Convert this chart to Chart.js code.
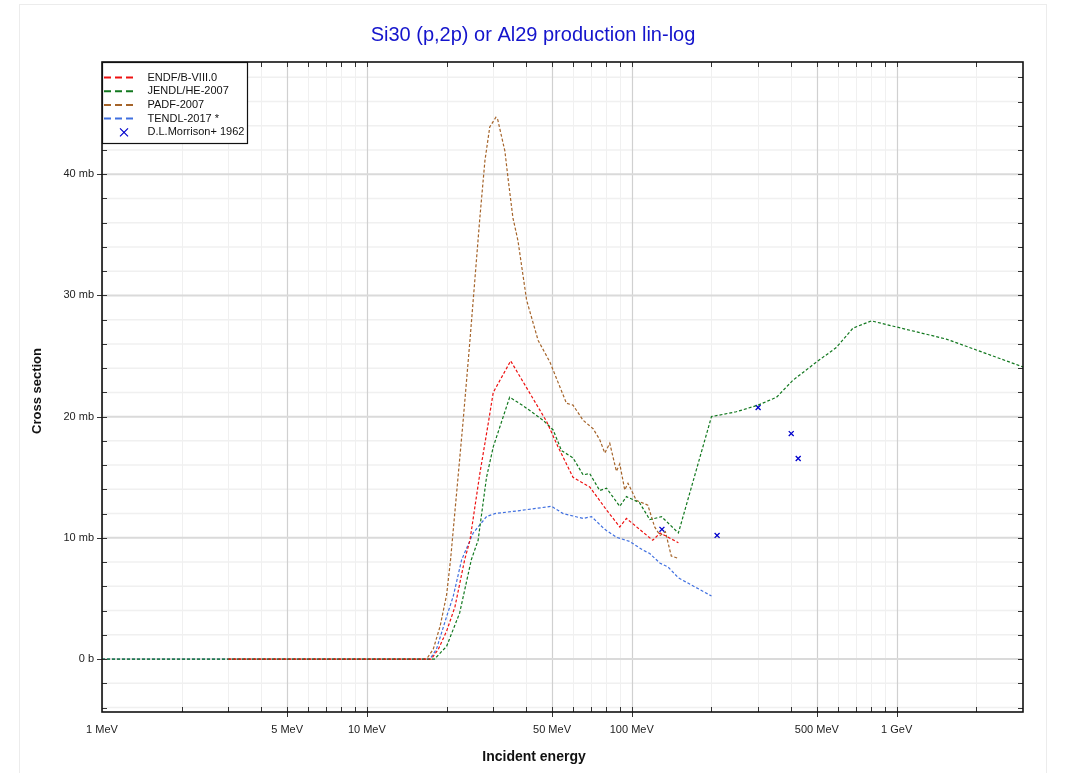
<!DOCTYPE html>
<html><head><meta charset="utf-8">
<script src="https://cdn.jsdelivr.net/npm/chart.js@4.4.0/dist/chart.umd.min.js"></script>
<style>
html,body{margin:0;padding:0;background:#fff;}
#wrap{position:relative;width:1071px;height:773px;overflow:hidden;}
#frame{position:absolute;left:19px;top:4px;width:1026px;height:800px;border:1px solid #ececec;}
canvas{position:absolute;left:0;top:0;}
</style></head><body>
<div id="wrap"><div id="frame"></div><canvas id="c" width="1071" height="773"></canvas></div>
<script>
const FONT = '"Liberation Sans", Arial, Helvetica, sans-serif';
const titleText = 'Si30 (p,2p) or Al29 production lin-log';
const xAxisTitle = 'Incident energy';
const yAxisTitle = 'Cross section';

// Energies in MeV, cross sections in mb
const endfE  = [3, 17.5, 18.6, 20.0, 21.5, 23.4, 24.5, 26.7, 28.7, 30.0, 34.9, 47.7, 52.7, 60.0, 69.4, 80.3, 90.1, 95.5, 107, 120, 128, 150];
const endfXS = [0, 0, 0.8, 2.3, 4.3, 8.2, 9.8, 15.3, 19.4, 22.0, 24.6, 19.6, 17.5, 15.0, 14.2, 12.3, 10.9, 11.6, 10.7, 9.8, 10.4, 9.6];

const jendlE  = [1, 18.0, 20.0, 22.4, 24.8, 26.3, 28.3, 30.0, 34.6, 38.9, 46.3, 50.5, 54.3, 60.0, 65.5, 69.4, 75.7, 80.3, 90.1, 95.5, 107, 117, 129.5, 150, 200, 248, 300, 352, 406, 498, 592, 684, 803, 997, 1540, 2000, 3000];
const jendlXS = [0, 0, 1.05, 3.8, 8.2, 9.8, 15.0, 17.5, 21.6, 20.9, 19.7, 18.9, 17.2, 16.6, 15.2, 15.3, 13.9, 14.1, 12.6, 13.4, 12.9, 11.5, 11.75, 10.4, 20.0, 20.4, 20.95, 21.6, 23.0, 24.5, 25.7, 27.3, 27.9, 27.4, 26.4, 25.5, 24.1];

const padfE  = [3, 16.8, 17.8, 18.9, 20.0, 20.7, 23.1, 24.5, 25.2, 26.7, 27.9, 29.1, 30.7, 31.2, 33.2, 34.1, 35.6, 37.2, 40.1, 44.3, 49.1, 56.7, 60.0, 65.5, 71.5, 75.7, 79.1, 82.6, 87.5, 90.1, 94.1, 96.8, 104, 115, 122, 128, 134, 141, 150];
const padfXS = [0, 0, 0.8, 2.7, 5.3, 8.2, 19.7, 26.3, 29.6, 36.4, 41.1, 43.9, 44.7, 44.5, 41.9, 39.7, 36.4, 34.5, 29.6, 26.3, 24.5, 21.1, 20.95, 19.7, 19.0, 18.1, 17.0, 17.8, 15.5, 16.1, 13.95, 14.5, 13.1, 12.7, 10.9, 10.2, 10.5, 8.5, 8.3];

const tendlE  = [1, 17.3, 18.3, 20.0, 21.2, 22.8, 25.2, 28.3, 30.4, 37.8, 49.8, 55.1, 65.5, 70.5, 79.1, 87.5, 98.3, 110, 117, 128, 137, 150, 200];
const tendlXS = [0, 0, 0.8, 3.5, 5.2, 8.2, 10.4, 11.75, 12.0, 12.25, 12.6, 12.0, 11.6, 11.75, 10.7, 10.05, 9.7, 9.0, 8.7, 7.9, 7.6, 6.7, 5.2];

const morrisonE  = [130, 210, 300, 400, 425];
const morrisonXS = [10.7, 10.2, 20.75, 18.6, 16.55];

const seriesLabels = ['ENDF/B-VIII.0', 'JENDL/HE-2007', 'PADF-2007', 'TENDL-2017 *', 'D.L.Morrison+ 1962'];

const xTickValues = [1, 5, 10, 50, 100, 500, 1000];
const xTickLabels = ['1 MeV', '5 MeV', '10 MeV', '50 MeV', '100 MeV', '500 MeV', '1 GeV'];
const yTickValues = [0, 10, 20, 30, 40];
const yTickLabels = ['0 b', '10 mb', '20 mb', '30 mb', '40 mb'];

const pts = (E, S) => E.map((e, i) => ({x: e, y: S[i]}));

function lineSet(label, E, S, color) {
  return {label, data: pts(E, S), borderColor: color, backgroundColor: color,
    borderWidth: 1.2, borderDash: [3, 2], pointRadius: 0, tension: 0, fill: false};
}

const datasets = [
  lineSet(seriesLabels[0], endfE, endfXS, '#ee1111'),
  lineSet(seriesLabels[1], jendlE, jendlXS, '#12781f'),
  lineSet(seriesLabels[2], padfE, padfXS, '#a5642a'),
  lineSet(seriesLabels[3], tendlE, tendlXS, '#4070e0'),
  {label: seriesLabels[4], type: 'scatter', data: pts(morrisonE, morrisonXS), showLine: false,
   pointStyle: 'crossRot', pointRadius: 3.5, borderColor: '#0000cc', backgroundColor: '#0000cc', borderWidth: 1.3}
];

const decor = {
  id: 'decor',
  beforeDatasetsDraw(chart) {
    const {ctx, chartArea: a, scales: {x, y}} = chart;
    ctx.save();
    ctx.beginPath(); ctx.rect(a.left, a.top, a.right - a.left, a.bottom - a.top); ctx.clip();
    const xv = [];
    for (let d = 1; d <= 1000; d *= 10) for (let m = 1; m <= 9; m++) { const v = m * d; if (v <= 3000) xv.push([v, m === 1 || m === 5]); }
    const yv = [];
    for (let v = -4; v <= 48; v += 2) yv.push([v, v % 10 === 0]);
    ctx.lineWidth = 1;
    ctx.strokeStyle = '#f0f0f0';
    for (const [v, maj] of xv) if (!maj) { const px = Math.round(x.getPixelForValue(v)) + 0.5; ctx.beginPath(); ctx.moveTo(px, a.top); ctx.lineTo(px, a.bottom); ctx.stroke(); }
    ctx.lineWidth = 1.5;
    for (const [v, maj] of yv) if (!maj) { const py = y.getPixelForValue(v); ctx.beginPath(); ctx.moveTo(a.left, py); ctx.lineTo(a.right, py); ctx.stroke(); }
    ctx.strokeStyle = '#d0d0d0';
    ctx.lineWidth = 1.2;
    for (const [v, maj] of xv) if (maj) { const px = Math.round(x.getPixelForValue(v)) + 0.5; ctx.beginPath(); ctx.moveTo(px, a.top); ctx.lineTo(px, a.bottom); ctx.stroke(); }
    ctx.strokeStyle = '#dadada';
    ctx.lineWidth = 2;
    for (const [v, maj] of yv) if (maj) { const py = y.getPixelForValue(v); ctx.beginPath(); ctx.moveTo(a.left, py); ctx.lineTo(a.right, py); ctx.stroke(); }
    ctx.restore();
    chart.$xv = xv; chart.$yv = yv;
  },
  afterDatasetsDraw(chart) {
    const {ctx, chartArea: a, scales: {x, y}} = chart;
    const xv = chart.$xv, yv = chart.$yv;
    ctx.save();
    ctx.strokeStyle = '#333'; ctx.lineWidth = 1;
    for (const [v, maj] of xv) {
      const px = Math.round(x.getPixelForValue(v)) + 0.5;
      if (px <= a.left + 1 || px >= a.right - 1) continue;
      ctx.beginPath(); ctx.moveTo(px, a.bottom - 5); ctx.lineTo(px, a.bottom + (maj ? 5 : 0)); ctx.stroke();
      ctx.beginPath(); ctx.moveTo(px, a.top + 5); ctx.lineTo(px, a.top); ctx.stroke();
    }
    for (const [v, maj] of yv) {
      const py = Math.round(y.getPixelForValue(v)) + 0.5;
      ctx.beginPath(); ctx.moveTo(a.left - (maj ? 5 : 0), py); ctx.lineTo(a.left + 5, py); ctx.stroke();
      ctx.beginPath(); ctx.moveTo(a.right - 5, py); ctx.lineTo(a.right, py); ctx.stroke();
    }
    ctx.strokeStyle = '#111'; ctx.lineWidth = 1.6;
    ctx.strokeRect(a.left, a.top, a.right - a.left, a.bottom - a.top);
    const lx = a.left, ly = a.top, lw = 145, lh = 81;
    ctx.fillStyle = '#fff'; ctx.fillRect(lx, ly, lw, lh);
    ctx.strokeStyle = '#111'; ctx.lineWidth = 1.2;
    ctx.strokeRect(lx + 0.5, ly + 0.5, lw, lh);
    ctx.font = '11px ' + FONT; ctx.textBaseline = 'middle'; ctx.textAlign = 'left';
    const ds = chart.data.datasets;
    for (let i = 0; i < ds.length; i++) {
      const yy = ly + 15.5 + i * 13.7;
      if (ds[i].type === 'scatter') {
        ctx.strokeStyle = ds[i].borderColor; ctx.lineWidth = 1.2; ctx.setLineDash([]);
        const cx = lx + 22, r = 4;
        ctx.beginPath(); ctx.moveTo(cx - r, yy - r); ctx.lineTo(cx + r, yy + r); ctx.moveTo(cx - r, yy + r); ctx.lineTo(cx + r, yy - r); ctx.stroke();
      } else {
        ctx.strokeStyle = ds[i].borderColor; ctx.lineWidth = 2; ctx.setLineDash([7, 4]);
        ctx.beginPath(); ctx.moveTo(lx + 2, yy); ctx.lineTo(lx + 31, yy); ctx.stroke();
        ctx.setLineDash([]);
      }
      ctx.fillStyle = '#111';
      ctx.fillText(ds[i].label, lx + 45.5, yy);
    }
    ctx.restore();
  },
  afterDraw(chart) {
    const {ctx} = chart;
    ctx.save();
    ctx.fillStyle = '#1414cc'; ctx.font = '20px ' + FONT; ctx.textAlign = 'center'; ctx.textBaseline = 'middle';
    ctx.fillText(titleText, 533, 35);
    ctx.fillStyle = '#111'; ctx.font = 'bold 14px ' + FONT;
    ctx.fillText(xAxisTitle, 534, 757);
    ctx.font = 'bold 13px ' + FONT;
    ctx.translate(37.5, 391); ctx.rotate(-Math.PI / 2);
    ctx.fillText(yAxisTitle, 0, 0);
    ctx.restore();
  }
};

new Chart(document.getElementById('c').getContext('2d'), {
  type: 'line',
  data: {datasets},
  options: {
    responsive: false, animation: false, parsing: true,
    layout: {padding: {top: 62, right: 48, left: 0, bottom: 0}},
    plugins: {legend: {display: false}, title: {display: false}, tooltip: {enabled: false}},
    scales: {
      x: {
        type: 'logarithmic', min: 1, max: 3000, position: 'bottom',
        grid: {display: false, drawTicks: false}, border: {display: false},
        afterBuildTicks: s => { s.ticks = xTickValues.map(v => ({value: v})); },
        afterFit: s => { s.height = 61; },
        ticks: {autoSkip: false, maxRotation: 0, minRotation: 0, padding: 11, color: '#222',
          font: {family: FONT, size: 11}, callback: (v, i) => xTickLabels[i]}
      },
      y: {
        type: 'linear', min: -4.37, max: 49.26,
        grid: {display: false, drawTicks: false}, border: {display: false},
        afterBuildTicks: s => { s.ticks = yTickValues.map(v => ({value: v})); },
        afterFit: s => { s.width = 102; },
        ticks: {autoSkip: false, padding: 8, color: '#222', font: {family: FONT, size: 11},
          callback: (v, i) => yTickLabels[i]}
      }
    }
  },
  plugins: [decor]
});
</script>
</body></html>
